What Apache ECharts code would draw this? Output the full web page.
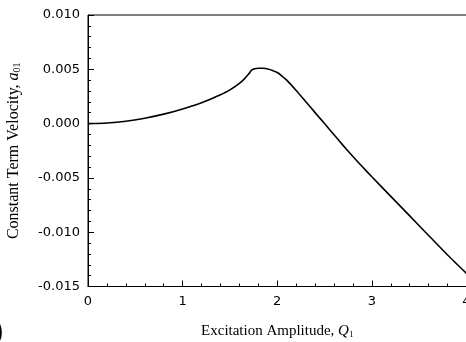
<!DOCTYPE html>
<html>
<head>
<meta charset="utf-8">
<script src="https://cdn.jsdelivr.net/npm/echarts@6/dist/echarts.min.js"></script>
<style>
html,body{margin:0;padding:0;background:#fff;}
#c{width:466px;height:342px;}
</style>
</head>
<body>
<div id="c"></div>
<script>
const amplitude = [0, 0.2, 0.4, 0.6, 0.8, 1.0, 1.2, 1.3, 1.4, 1.5, 1.6, 1.65, 1.7, 1.726, 1.76, 1.8, 1.85, 1.9, 1.95, 2.0, 2.05, 2.1, 2.2, 2.3, 2.4, 2.5, 2.6, 2.7, 2.8, 2.9, 3.0, 3.2, 3.4, 3.6, 3.8, 4.0];
const velocity = [0, 0.00006, 0.00022, 0.0005, 0.00087, 0.00135, 0.00193, 0.00227, 0.00265, 0.0031, 0.0037, 0.0041, 0.00458, 0.0049, 0.00505, 0.0051, 0.00509, 0.00503, 0.0049, 0.0047, 0.00438, 0.004, 0.00305, 0.00203, 0.00101, 0.0, -0.00103, -0.00205, -0.00303, -0.00398, -0.0049, -0.0067, -0.0085, -0.0103, -0.0121, -0.0138];
const yTicks = ['0.010', '0.005', '0.000', '-0.005', '-0.010', '-0.015'];
const xTicks = ['0', '1', '2', '3', '4'];

const chart = echarts.init(document.getElementById('c'), null, {renderer: 'canvas'});
const serif = '"Liberation Serif", "Times New Roman", serif';
const sans = '"DejaVu Sans", sans-serif';
chart.setOption({
  animation: false,
  backgroundColor: '#fff',
  grid: {left: 88, top: 15, width: 378.5, height: 271.5, show: true, borderColor: '#000', borderWidth: 1, backgroundColor: 'transparent', outerBoundsMode: 'none', containLabel: false},
  xAxis: {
    type: 'value', min: 0, max: 4, interval: 1,
    axisLine: {onZero: false, lineStyle: {color: '#000', width: 1}},
    axisTick: {inside: true, length: 6, lineStyle: {color: '#000'}},
    minorTick: {show: true, splitNumber: 5, length: 3, lineStyle: {color: '#000'}},
    splitLine: {show: false},
    axisLabel: {color: '#000', fontFamily: sans, fontSize: 13, margin: 9,
      formatter: v => xTicks[Math.round(v)]},
    name: '{n|Excitation Amplitude, }{i|Q}{s|1}',
    nameLocation: 'middle', nameGap: 37,
    nameTextStyle: {rich: {
      n: {fontFamily: serif, fontSize: 15, color: '#000'},
      i: {fontFamily: serif, fontSize: 15, fontStyle: 'italic', color: '#000'},
      s: {fontFamily: serif, fontSize: 9, color: '#000', padding: [7, 0, 0, 0]}
    }}
  },
  yAxis: {
    type: 'value', min: -0.015, max: 0.010, interval: 0.005,
    axisLine: {onZero: false, lineStyle: {color: '#000', width: 1}},
    axisTick: {inside: true, length: 6, lineStyle: {color: '#000'}},
    minorTick: {show: true, splitNumber: 5, length: 3, lineStyle: {color: '#000'}},
    splitLine: {show: false},
    axisLabel: {color: '#000', fontFamily: sans, fontSize: 13, margin: 8,
      formatter: v => yTicks[Math.round((0.010 - v) / 0.005)]},
    name: '{n|Constant Term Velocity, }{i|a}{s|01}',
    nameLocation: 'middle', nameGap: 66, nameRotate: 90,
    nameTextStyle: {rich: {
      n: {fontFamily: serif, fontSize: 16, color: '#000'},
      i: {fontFamily: serif, fontSize: 16, fontStyle: 'italic', color: '#000'},
      s: {fontFamily: serif, fontSize: 10, color: '#000', padding: [7, 0, 0, 0]}
    }}
  },
  series: [{
    type: 'line',
    data: amplitude.map((x, i) => [x, velocity[i]]),
    showSymbol: false,
    smooth: 0.2,
    lineStyle: {color: '#000', width: 1.6},
    clip: true
  }],
  graphic: [{
    type: 'text', left: -5, top: 320,
    style: {text: ')', font: 'bold 24px "Liberation Sans", Arial, sans-serif', fill: '#000'}
  }]
});
</script>
</body>
</html>
